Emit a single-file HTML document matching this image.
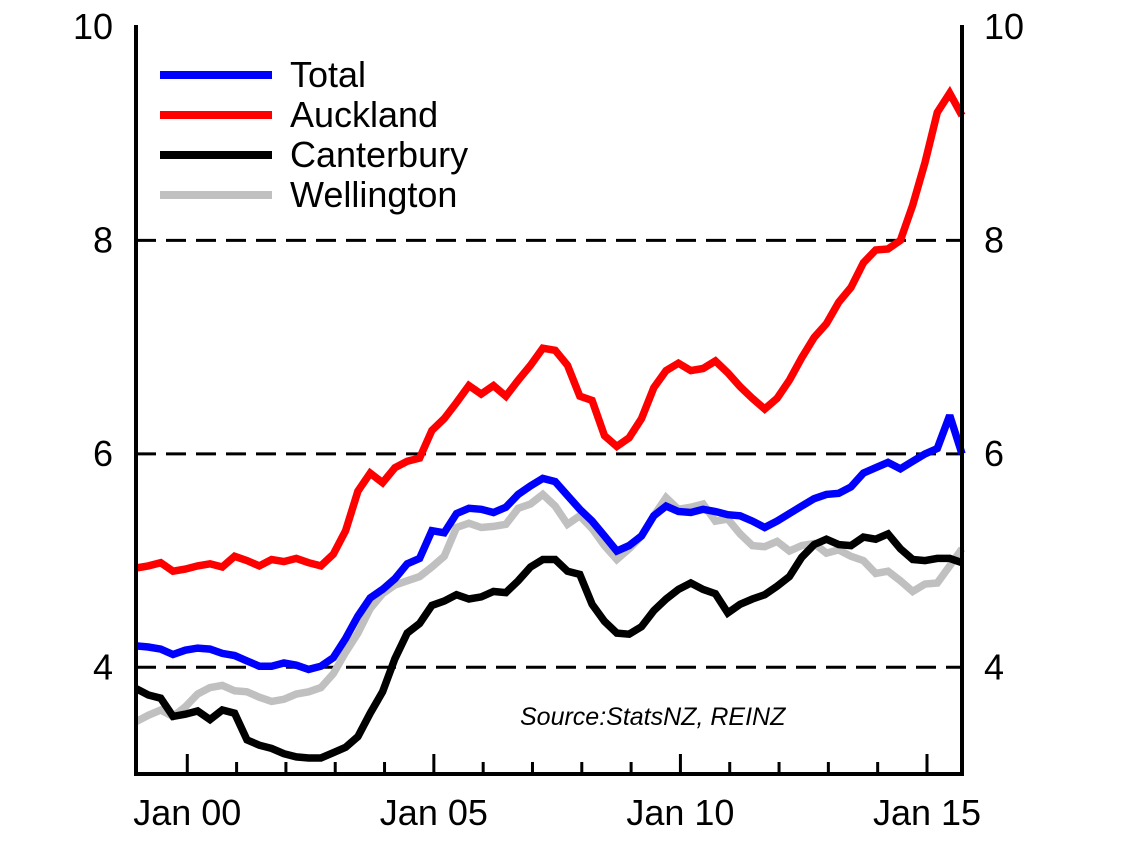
<!DOCTYPE html>
<html><head><meta charset="utf-8"><style>
body{margin:0;background:#fff;}
svg{display:block;font-family:"Liberation Sans",Arial,sans-serif;}
</style></head><body>
<svg id="chart" width="1148" height="854" viewBox="0 0 1148 854" xmlns="http://www.w3.org/2000/svg">
<g id="grid"></g>
<g id="series"></g>
<g id="axes"></g>
<g id="legend"></g>
<text x="520" y="725" font-size="25" font-style="italic" fill="#000">Source:StatsNZ,  REINZ</text>
</svg>
<script>
const yTicks = [4, 6, 8, 10];
const yLabels = ["4", "6", "8", "10"];
const xTickYears = [2000, 2005, 2010, 2015];
const xLabels = ["Jan 00", "Jan 05", "Jan 10", "Jan 15"];
const startYear = 1998.96;
const seriesNames = ["Total", "Auckland", "Canterbury", "Wellington"];
const total = [4.20,4.19,4.17,4.12,4.16,4.18,4.17,4.13,4.11,4.06,4.01,4.01,4.04,4.02,3.98,4.01,4.09,4.27,4.48,4.65,4.73,4.83,4.97,5.02,5.28,5.26,5.44,5.49,5.48,5.45,5.50,5.62,5.70,5.77,5.74,5.61,5.48,5.37,5.23,5.09,5.14,5.23,5.42,5.51,5.46,5.45,5.48,5.46,5.43,5.42,5.37,5.31,5.37,5.44,5.51,5.58,5.62,5.63,5.69,5.82,5.87,5.92,5.86,5.93,6.00,6.05,6.36,6.00];
const auckland = [4.93,4.95,4.98,4.90,4.92,4.95,4.97,4.94,5.04,5.00,4.95,5.01,4.99,5.02,4.98,4.95,5.06,5.28,5.65,5.82,5.73,5.87,5.93,5.96,6.22,6.33,6.48,6.64,6.56,6.64,6.54,6.69,6.83,6.99,6.97,6.83,6.54,6.50,6.17,6.07,6.15,6.33,6.62,6.78,6.85,6.78,6.80,6.87,6.76,6.63,6.52,6.42,6.52,6.69,6.90,7.09,7.22,7.42,7.56,7.79,7.91,7.92,8.00,8.33,8.73,9.20,9.38,9.17];
const canterbury = [3.80,3.74,3.71,3.54,3.56,3.59,3.51,3.60,3.57,3.32,3.27,3.24,3.19,3.16,3.15,3.15,3.20,3.25,3.35,3.57,3.77,4.08,4.32,4.41,4.58,4.62,4.68,4.64,4.66,4.71,4.70,4.81,4.94,5.01,5.01,4.90,4.87,4.59,4.43,4.32,4.31,4.38,4.53,4.64,4.73,4.79,4.73,4.69,4.51,4.59,4.64,4.68,4.76,4.85,5.03,5.15,5.20,5.15,5.14,5.22,5.20,5.25,5.11,5.01,5.00,5.02,5.02,4.98];
const wellington = [3.49,3.55,3.60,3.54,3.63,3.75,3.81,3.83,3.78,3.77,3.72,3.68,3.70,3.75,3.77,3.81,3.94,4.14,4.32,4.55,4.69,4.77,4.81,4.85,4.94,5.04,5.31,5.35,5.31,5.32,5.34,5.49,5.53,5.62,5.51,5.34,5.42,5.30,5.14,5.01,5.11,5.23,5.42,5.59,5.48,5.50,5.53,5.37,5.39,5.25,5.14,5.13,5.18,5.09,5.14,5.16,5.07,5.10,5.04,5.00,4.88,4.90,4.81,4.71,4.78,4.79,4.95,5.11];

const NS = "http://www.w3.org/2000/svg";
const L = 136, R = 962, T = 27, B = 774, yMin = 3, yMax = 10;
const n = total.length;
function xIdx(i){ return L + i * (R - L) / (n - 1); }
function xYear(y){ return L + (y - startYear) * 4 * (R - L) / (n - 1); }
function yScale(v){ return B - (v - yMin) / (yMax - yMin) * (B - T); }
function mk(tag, attrs, parent){ const e = document.createElementNS(NS, tag); for (const k in attrs) e.setAttribute(k, attrs[k]); parent.appendChild(e); return e; }

const grid = document.getElementById('grid');
yTicks.forEach((v, k) => {
  if (v >= yMax) return;
  const ln = mk('line', {x1: L, x2: R, y1: yScale(v), y2: yScale(v), stroke: '#000', 'stroke-width': 3, 'stroke-dasharray': '20 10'}, grid);
  
  
});

const sg = document.getElementById('series');
const cols = ["#0000ff", "#ff0000", "#000000", "#c0c0c0"];
const data = [total, auckland, canterbury, wellington];
const order = [3, 2, 0, 1];
order.forEach(s => {
  const pts = data[s].map((v, i) => xIdx(i).toFixed(1) + ',' + yScale(v).toFixed(1)).join(' ');
  const pl = mk('polyline', {points: pts, fill: 'none', stroke: cols[s], 'stroke-width': 7.5, 'stroke-linejoin': 'miter', 'stroke-miterlimit': 3}, sg);
  
  
});

const ax = document.getElementById('axes');
const a1 = mk('line', {x1: L, x2: L, y1: T - 2, y2: B + 2, stroke: '#000', 'stroke-width': 4}, ax);
 
const a2 = mk('line', {x1: R, x2: R, y1: T - 2, y2: B + 2, stroke: '#000', 'stroke-width': 4}, ax);
 
const a3 = mk('line', {x1: L - 2, x2: R + 2, y1: B, y2: B, stroke: '#000', 'stroke-width': 4}, ax);
 
yTicks.forEach((v, k) => {
  const y = yScale(v);
  const t1 = mk('text', {x: L - 23, y: y + 12, 'font-size': 36, 'text-anchor': 'end'}, ax);
  t1.textContent = yLabels[k];
  
  
  const t2 = mk('text', {x: R + 22, y: y + 12, 'font-size': 36, 'text-anchor': 'start'}, ax);
  t2.textContent = yLabels[k];
  
  
});
for (let yr = 2000; yr <= 2015; yr++) {
  const x = xYear(yr);
  const long = (yr % 5 === 0);
  const tk = mk('line', {x1: x, x2: x, y1: B, y2: B - (long ? 20 : 12), stroke: '#000', 'stroke-width': 3}, ax);
  
  
}
xTickYears.forEach((yr, k) => {
  const t = mk('text', {x: xYear(yr), y: 825, 'font-size': 36, 'text-anchor': 'middle'}, ax);
  t.textContent = xLabels[k];
  
  
});

const lg = document.getElementById('legend');
seriesNames.forEach((nm, s) => {
  const y = 75 + s * 40;
  const ln = mk('line', {x1: 160, x2: 272, y1: y, y2: y, stroke: cols[s], 'stroke-width': 8}, lg);
  
  
  const t = mk('text', {x: 290, y: y + 12, 'font-size': 36}, lg);
  t.textContent = nm;
  
  
});
</script>
</body></html>
